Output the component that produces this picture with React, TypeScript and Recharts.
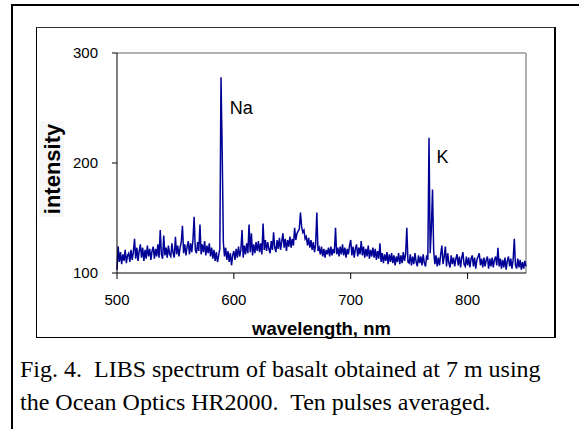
import React from "react";
import {
  LineChart,
  Line,
  XAxis,
  YAxis,
  ReferenceLine,
  ReferenceDot,
} from "recharts";

// spectrum sampled every 1 nm starting at 500 nm
const startNm = 500;
const stepNm = 1;

// intensity readings, one row per 10 nm
const intensity: number[] = [
  103, 124, 110, 119, 108, 117, 111, 121, 109, 116, // 500
  118, 110, 121, 112, 119, 131, 113, 123, 111, 120, // 510
  126, 114, 123, 111, 121, 113, 125, 115, 122, 112, // 520
  120, 124, 113, 122, 115, 126, 114, 139, 117, 113, // 530
  134, 116, 123, 114, 125, 117, 115, 127, 118, 114, // 540
  133, 117, 125, 115, 123, 128, 143, 118, 126, 116, // 550
  124, 129, 117, 127, 119, 130, 151, 121, 118, 128, // 560
  120, 144, 117, 126, 119, 129, 116, 125, 118, 127, // 570
  115, 123, 113, 121, 111, 119, 110, 116, 122, 278, // 580
  212, 128, 115, 123, 112, 120, 110, 118, 107, 116, // 590
  120, 112, 122, 114, 124, 115, 121, 139, 114, 125, // 600
  117, 127, 118, 144, 119, 136, 116, 126, 118, 128, // 610
  120, 129, 119, 127, 117, 145, 121, 130, 120, 128, // 620
  122, 118, 129, 121, 137, 123, 119, 130, 122, 132, // 630
  121, 129, 136, 123, 131, 120, 130, 124, 133, 123, // 640
  131, 125, 141, 130, 136, 138, 140, 155, 142, 137, // 650
  139, 131, 133, 125, 132, 123, 130, 121, 128, 119, // 660
  126, 155, 120, 123, 117, 124, 115, 122, 114, 121, // 670
  117, 123, 115, 124, 116, 122, 118, 141, 117, 123, // 680
  115, 124, 117, 126, 116, 123, 114, 122, 117, 125, // 690
  130, 116, 124, 114, 122, 126, 115, 123, 117, 129, // 700
  116, 124, 114, 122, 115, 125, 113, 121, 115, 123, // 710
  114, 122, 112, 120, 113, 127, 110, 118, 109, 117, // 720
  111, 119, 108, 117, 110, 118, 109, 116, 107, 115, // 730
  110, 118, 108, 116, 109, 119, 111, 117, 141, 110, // 740
  109, 117, 107, 115, 108, 118, 110, 106, 116, 109, // 750
  115, 107, 117, 109, 106, 116, 112, 223, 118, 140, // 760
  176, 120, 108, 116, 106, 114, 107, 117, 125, 108, // 770
  115, 124, 106, 118, 109, 105, 116, 108, 114, 106, // 780
  113, 117, 107, 115, 105, 114, 119, 108, 106, 115, // 790
  107, 114, 105, 113, 116, 106, 114, 104, 112, 115, // 800
  118, 107, 113, 105, 114, 106, 112, 115, 104, 113, // 810
  106, 114, 105, 112, 115, 107, 123, 106, 113, 104, // 820
  112, 105, 114, 103, 111, 115, 106, 113, 104, 112, // 830
  131, 107, 104, 113, 105, 112, 103, 110, 104, 111, // 840
  106, // 850
];

const xTicks = [500, 600, 700, 800];
const yTicks = [100, 200, 300];

// peak labels: [text, wavelength, intensity] of the label's text baseline start
const peakLabels: [string, number, number][] = [
  ["Na", 596.5, 244.5],
  ["K", 773.5, 200],
];

const data = intensity.map((v, i) => ({ wl: startNm + i * stepNm, v }));

const sans = "'Liberation Sans', Arial, sans-serif";
const serif = "'Liberation Serif', 'Times New Roman', serif";

export default function App() {
  return (
    <div
      style={{
        position: "absolute",
        left: 0,
        top: 0,
        width: 579,
        height: 429,
        background: "#fff",
        overflow: "hidden",
      }}
    >
      {/* outer page frame */}
      <div
        style={{
          position: "absolute",
          left: 11,
          top: 4,
          width: 700,
          height: 600,
          borderTop: "2px solid #000",
          borderLeft: "2px solid #000",
        }}
      />
      {/* chart box */}
      <div
        style={{
          position: "absolute",
          left: 36,
          top: 27,
          width: 517,
          height: 309,
          borderTop: "1px solid #333",
          borderLeft: "1px solid #000",
          borderBottom: "1px solid #000",
          borderRight: "2px solid #000",
        }}
      />
      <LineChart
        width={579}
        height={429}
        data={data}
        margin={{ top: 53, right: 53, bottom: 126, left: 57 }}
        style={{ position: "absolute", left: 0, top: 0 }}
      >
        <XAxis
          dataKey="wl"
          type="number"
          domain={[500, 850]}
          ticks={xTicks}
          height={30}
          tickSize={6}
          tickMargin={15}
          stroke="#000"
          tick={{ fill: "#000", fontSize: 15, fontFamily: sans }}
        />
        <YAxis
          type="number"
          domain={[100, 300]}
          ticks={yTicks}
          width={60}
          tickSize={5}
          tickMargin={14}
          stroke="#000"
          tick={{ fill: "#000", fontSize: 15, fontFamily: sans }}
        />
        <ReferenceLine y={300} stroke="#999" strokeWidth={1.5} />
        <ReferenceLine x={850} stroke="#999" strokeWidth={1.5} />
        <Line
          type="linear"
          dataKey="v"
          stroke="#000096"
          strokeWidth={1.5}
          dot={false}
          isAnimationActive={false}
        />
        {peakLabels.map(([t, x, y]) => (
          <ReferenceDot
            key={t}
            x={x}
            y={y}
            r={0}
            shape={(p: any) => (
              <text
                x={p.cx}
                y={p.cy}
                fontSize={18}
                fontFamily={sans}
                fill="#000"
              >
                {t}
              </text>
            )}
          />
        ))}
      </LineChart>
      <svg
        width={579}
        height={429}
        style={{ position: "absolute", left: 0, top: 0, pointerEvents: "none" }}
      >
        <rect x={39} y={121} width={25} height={96} fill="#f7f7f7" />
        <text
          transform="translate(60,169) rotate(-90)"
          textAnchor="middle"
          fontSize={22}
          fontWeight="bold"
          fontFamily={sans}
          fill="#000"
        >
          intensity
        </text>
        <text
          x={321.5}
          y={335}
          textAnchor="middle"
          fontSize={18.5}
          fontWeight="bold"
          fontFamily={sans}
          fill="#000"
        >
          wavelength, nm
        </text>
      </svg>
      <div
        style={{
          position: "absolute",
          left: 20,
          top: 353,
          fontFamily: serif,
          fontSize: 24,
          lineHeight: "33px",
          whiteSpace: "pre",
          color: "#000",
        }}
      >
        {"Fig. 4.  LIBS spectrum of basalt obtained at 7 m using\nthe Ocean Optics HR2000.  Ten pulses averaged."}
      </div>
    </div>
  );
}
